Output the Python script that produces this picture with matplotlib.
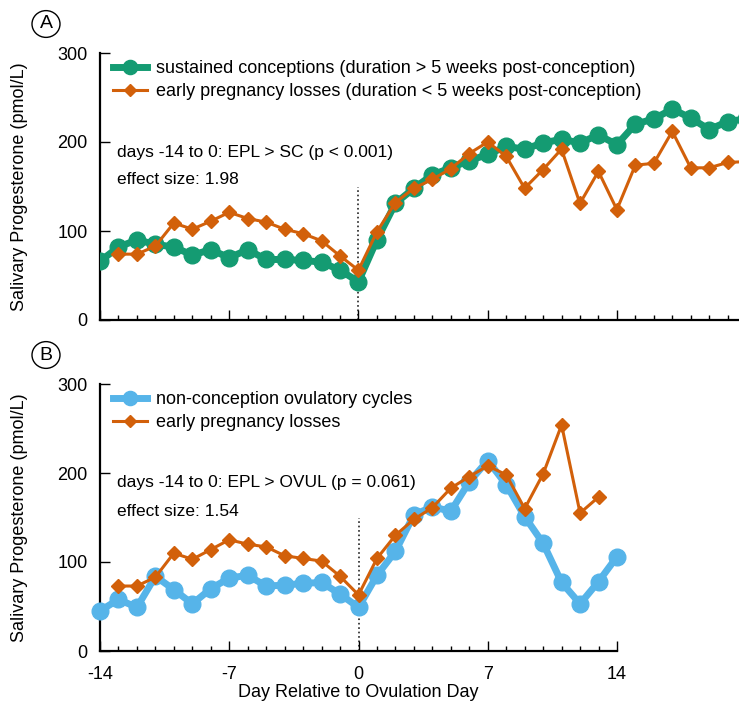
import matplotlib
matplotlib.use("Agg")
import matplotlib.pyplot as plt
from matplotlib.patches import Circle

plt.rcParams['font.family'] = ['Liberation Sans', 'DejaVu Sans']
plt.rcParams['axes.unicode_minus'] = False

# ---- data ----
days_a = list(range(-14, 22))
sc_a = [66, 82, 90, 85, 82, 73, 79, 70, 79, 68, 68, 67, 65, 56, 43,
        90, 131, 148, 163, 171, 179, 186, 195, 192, 199, 203, 199, 208, 197,
        220, 226, 237, 227, 214, 223, 226]
days_epl_a = list(range(-13, 22))
epl_a = [74, 74, 83, 109, 102, 111, 121, 114, 110, 102, 97, 89, 72, 56,
         99, 132, 148, 158, 170, 187, 200, 184, 148, 169, 192, 131, 167, 124,
         174, 176, 212, 171, 171, 177, 178]

days_b = list(range(-14, 15))
ovul_b = [45, 58, 49, 84, 69, 53, 70, 82, 85, 73, 74, 76, 77, 64, 49,
          85, 112, 153, 162, 157, 190, 214, 187, 151, 121, 77, 53, 78, 106]
days_epl_b = list(range(-13, 14))
epl_b = [73, 73, 83, 110, 103, 114, 125, 120, 117, 107, 104, 101, 84, 63,
         104, 130, 148, 161, 183, 196, 208, 198, 160, 199, 254, 155, 173]

labels_a = ["sustained conceptions (duration > 5 weeks post-conception)",
            "early pregnancy losses (duration < 5 weeks post-conception)"]
labels_b = ["non-conception ovulatory cycles", "early pregnancy losses"]
stat_a = ["days -14 to 0: EPL > SC (p < 0.001)", "effect size: 1.98"]
stat_b = ["days -14 to 0: EPL > OVUL (p = 0.061)", "effect size: 1.54"]
xticks = [-14, -7, 0, 7, 14]
yticks = [0, 100, 200, 300]

GREEN = "#149B72"
ORANGE = "#D2600A"
BLUE = "#56B4E9"

W, H = 739, 706
fig = plt.figure(figsize=(W / 100, H / 100), dpi=100)

def fx(px):
    return px / W

def fy(py):
    return 1 - py / H

xmax_a = -14 + (W - 100) / 18.46
ax_a = fig.add_axes([fx(100), fy(320), fx(W) - fx(100), fy(53) - fy(320)])
ax_b = fig.add_axes([fx(100), fy(651), fx(617) - fx(100), fy(384) - fy(651)])

def style(ax, xmax, show_labels, width_px):
    ax.set_xlim(-14, xmax)
    ax.set_ylim(0, 300)
    for s in ['top', 'right']:
        ax.spines[s].set_visible(False)
    for s in ['left', 'bottom']:
        ax.spines[s].set_linewidth(1.6)
    ax.set_xticks(xticks)
    ax.set_xticks(list(range(-14, int(xmax) + 1)), minor=True)
    ax.set_yticks(yticks)
    ax.tick_params(axis='both', which='major', direction='in', length=7, width=1.0,
                   labelsize=13)
    ax.tick_params(axis='x', which='minor', direction='in', length=3.5, width=1.0)
    ax.tick_params(axis='x', which='major', pad=11)
    ax.tick_params(axis='y', which='major', pad=9)
    if not show_labels:
        ax.tick_params(axis='x', which='major', labelbottom=False)
    ax.set_ylabel("Salivary Progesterone (pmol/L)", fontsize=13)
    ax.yaxis.set_label_coords((28 - 100) / width_px, 0.5)
    ax.plot([0, 0], [0, 150], linestyle=':', color='#222222', linewidth=1.2, zorder=1)

style(ax_a, xmax_a, False, W - 100)
style(ax_b, 14, True, 517)

ax_a.plot(days_a, sc_a, color=GREEN, linewidth=5, marker='o', markersize=12,
          label=labels_a[0], zorder=3, clip_on=True)
ax_a.plot(days_epl_a, epl_a, color=ORANGE, linewidth=2.2, marker='D', markersize=7,
          label=labels_a[1], zorder=4, clip_on=True)
ax_b.plot(days_b, ovul_b, color=BLUE, linewidth=5, marker='o', markersize=12,
          label=labels_b[0], zorder=3, clip_on=False)
ax_b.plot(days_epl_b, epl_b, color=ORANGE, linewidth=2.2, marker='D', markersize=7,
          label=labels_b[1], zorder=4, clip_on=False)

for ax in (ax_a, ax_b):
    ax.legend(loc='upper left', bbox_to_anchor=(0.0, 1.02), frameon=False,
              fontsize=13, handlelength=1.9, handletextpad=0.5,
              labelspacing=0.33, borderaxespad=0.3, markerscale=0.85)

for st, y1, y2 in ((stat_a, 152, 180), (stat_b, 483, 511)):
    fig.text(fx(117), fy(y1), st[0], fontsize=12.5, va='center', ha='left')
    fig.text(fx(117), fy(y2), st[1], fontsize=12.5, va='center', ha='left')

ax_b.set_xlabel("Day Relative to Ovulation Day", fontsize=13)
ax_b.xaxis.set_label_coords(0.5, (651 - 684) / 267)

for letter, (cx, cy) in (("A", (46, 24)), ("B", (46, 355))):
    circ = Circle((fx(cx), fy(cy)), radius=14 / W, transform=fig.transFigure,
                  fill=False, edgecolor='black', linewidth=1.0)
    fig.patches.append(circ)
    fig.text(fx(cx), fy(cy), letter, fontsize=14, ha='center', va='center')

fig.savefig("out.png", dpi=100)
